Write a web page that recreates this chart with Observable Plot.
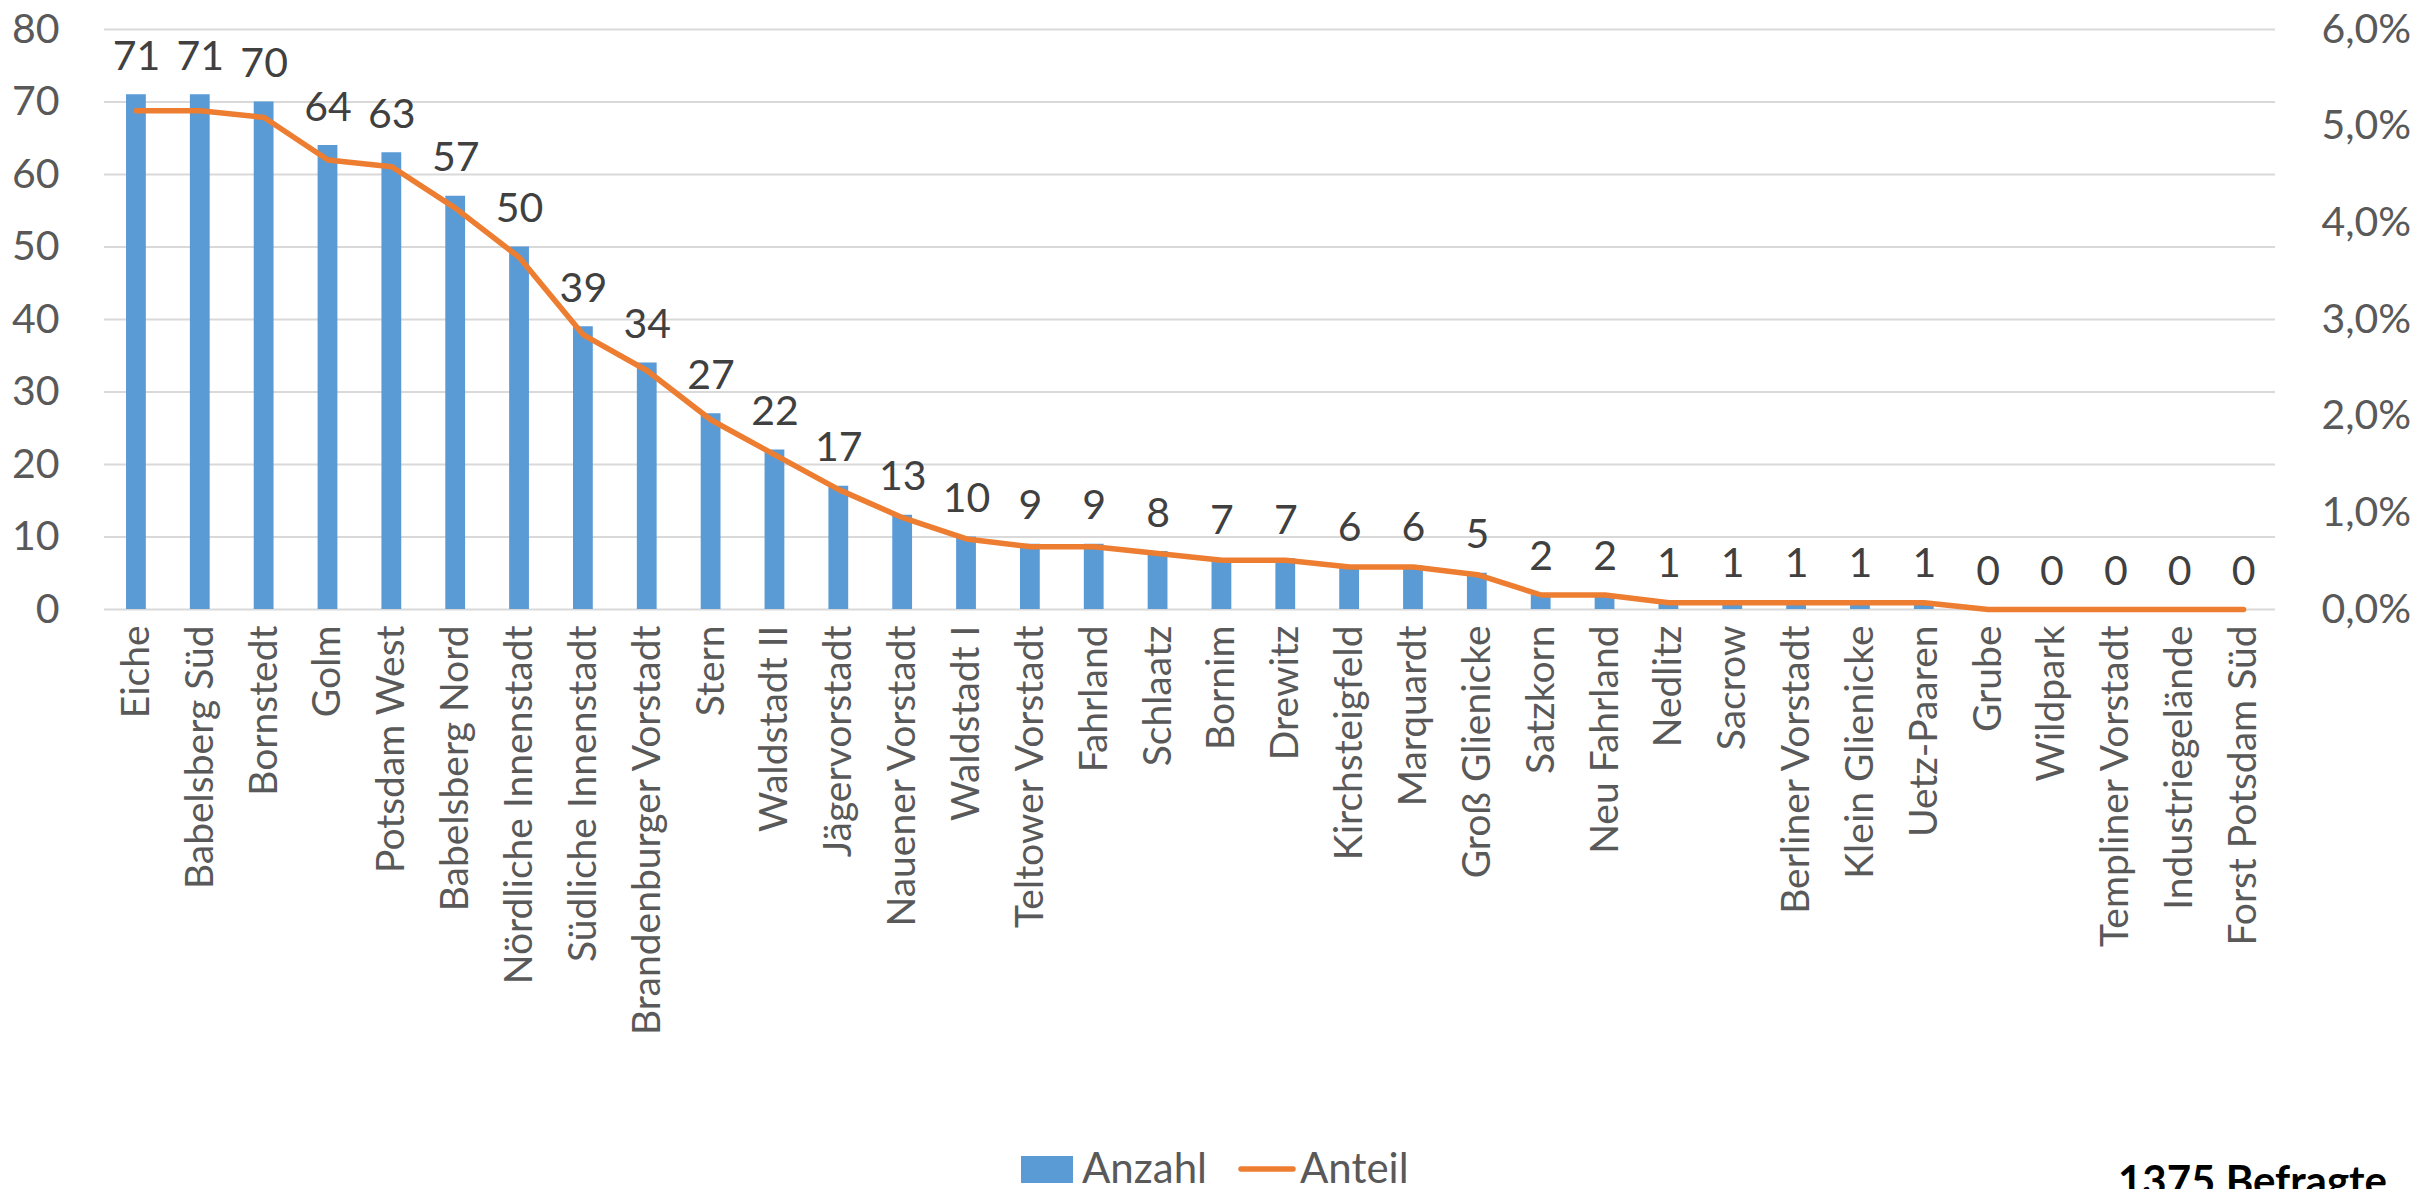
<!DOCTYPE html>
<html>
<head>
<meta charset="utf-8">
<script src="https://cdn.jsdelivr.net/npm/d3@7"></script>
<script src="https://cdn.jsdelivr.net/npm/@observablehq/plot@0.6"></script>
<style>
  html, body { margin: 0; padding: 0; background: #fff; overflow: hidden; }
  #chart svg { display: block; }
</style>
</head>
<body>
<div id="chart"></div>
<script>
const categories = ["Eiche","Babelsberg Süd","Bornstedt","Golm","Potsdam West","Babelsberg Nord","Nördliche Innenstadt","Südliche Innenstadt","Brandenburger Vorstadt","Stern","Waldstadt II","Jägervorstadt","Nauener Vorstadt","Waldstadt I","Teltower Vorstadt","Fahrland","Schlaatz","Bornim","Drewitz","Kirchsteigfeld","Marquardt","Groß Glienicke","Satzkorn","Neu Fahrland","Nedlitz","Sacrow","Berliner Vorstadt","Klein Glienicke","Uetz-Paaren","Grube","Wildpark","Templiner Vorstadt","Industriegelände","Forst Potsdam Süd"];
const anzahl = [71,71,70,64,63,57,50,39,34,27,22,17,13,10,9,9,8,7,7,6,6,5,2,2,1,1,1,1,1,0,0,0,0,0];
const anteil = [0.0516,0.0516,0.0509,0.0465,0.0458,0.0415,0.0364,0.0284,0.0247,0.0196,0.0160,0.0124,0.0095,0.0073,0.0065,0.0065,0.0058,0.0051,0.0051,0.0044,0.0044,0.0036,0.0015,0.0015,0.0007,0.0007,0.0007,0.0007,0.0007,0,0,0,0,0];
const leftTicks = [0,10,20,30,40,50,60,70,80];
const rightTickLabels = ["0,0%","1,0%","2,0%","3,0%","4,0%","5,0%","6,0%"];
const rightMax = 0.06;
const legendLabels = ["Anzahl","Anteil"];
const note = "1375 Befragte";

const data = categories.map((name, i) => ({name, anzahl: anzahl[i], anteil: anteil[i]}));
const leftMax = 80;
const rightTicks = rightTickLabels.map((_, i) => i * leftMax / (rightTickLabels.length - 1));

const FONT = "Lato, 'Open Sans', sans-serif";
const H = 1140;

const chart = Plot.plot({
  width: 2420,
  height: H,
  marginLeft: 104,
  marginRight: 145,
  marginTop: 29,
  marginBottom: H - 609,
  style: {fontFamily: FONT, background: "#fff"},
  x: {domain: categories, paddingInner: 0.69, paddingOuter: 0.345, align: 0.5, round: false},
  y: {domain: [0, leftMax]},
  marks: [
    Plot.ruleY(leftTicks, {stroke: "#D9D9D9", strokeWidth: 2}),
    Plot.barY(data, {x: "name", y: "anzahl", fill: "#5B9BD5"}),
    Plot.line(data, {x: "name", y: d => d.anteil / rightMax * leftMax, stroke: "#ED7D31", strokeWidth: 5.5, strokeLinejoin: "round", strokeLinecap: "round"}),
    Plot.text(data, {x: "name", y: "anzahl", text: d => String(d.anzahl), dy: -38, fontSize: 41, fill: "#404040"}),
    Plot.axisY({ticks: leftTicks, tickSize: 0, tickPadding: 45, fontSize: 41, color: "#595959", label: null}),
    Plot.axisY({anchor: "right", ticks: rightTicks, tickFormat: (d, i) => rightTickLabels[i], tickSize: 0, tickPadding: 46, fontSize: 41, color: "#595959", label: null}),
    Plot.axisX({tickRotate: -90, tickSize: 0, tickPadding: 16, fontSize: 39, color: "#595959", label: null})
  ]
});
document.getElementById("chart").appendChild(chart);

// legend below the chart
const leg = d3.select("#chart").append("svg")
  .attr("width", 2420).attr("height", 70)
  .style("display", "block")
  .style("font-family", FONT);
const base = 1183 - H;
leg.append("rect").attr("x", 1021).attr("y", 1156 - H).attr("width", 52).attr("height", 27).attr("fill", "#5B9BD5");
leg.append("text").attr("x", 1082).attr("y", base).attr("font-size", 42).attr("fill", "#595959").text(legendLabels[0]);
leg.append("line").attr("x1", 1241).attr("x2", 1293).attr("y1", 1169 - H).attr("y2", 1169 - H)
  .attr("stroke", "#ED7D31").attr("stroke-width", 5.5).attr("stroke-linecap", "round");
leg.append("text").attr("x", 1300).attr("y", base).attr("font-size", 42).attr("fill", "#595959").text(legendLabels[1]);
leg.append("text").attr("x", 2118).attr("y", 1196 - H).attr("font-size", 42).attr("font-weight", "bold").attr("fill", "#000").text(note);
</script>
</body>
</html>
